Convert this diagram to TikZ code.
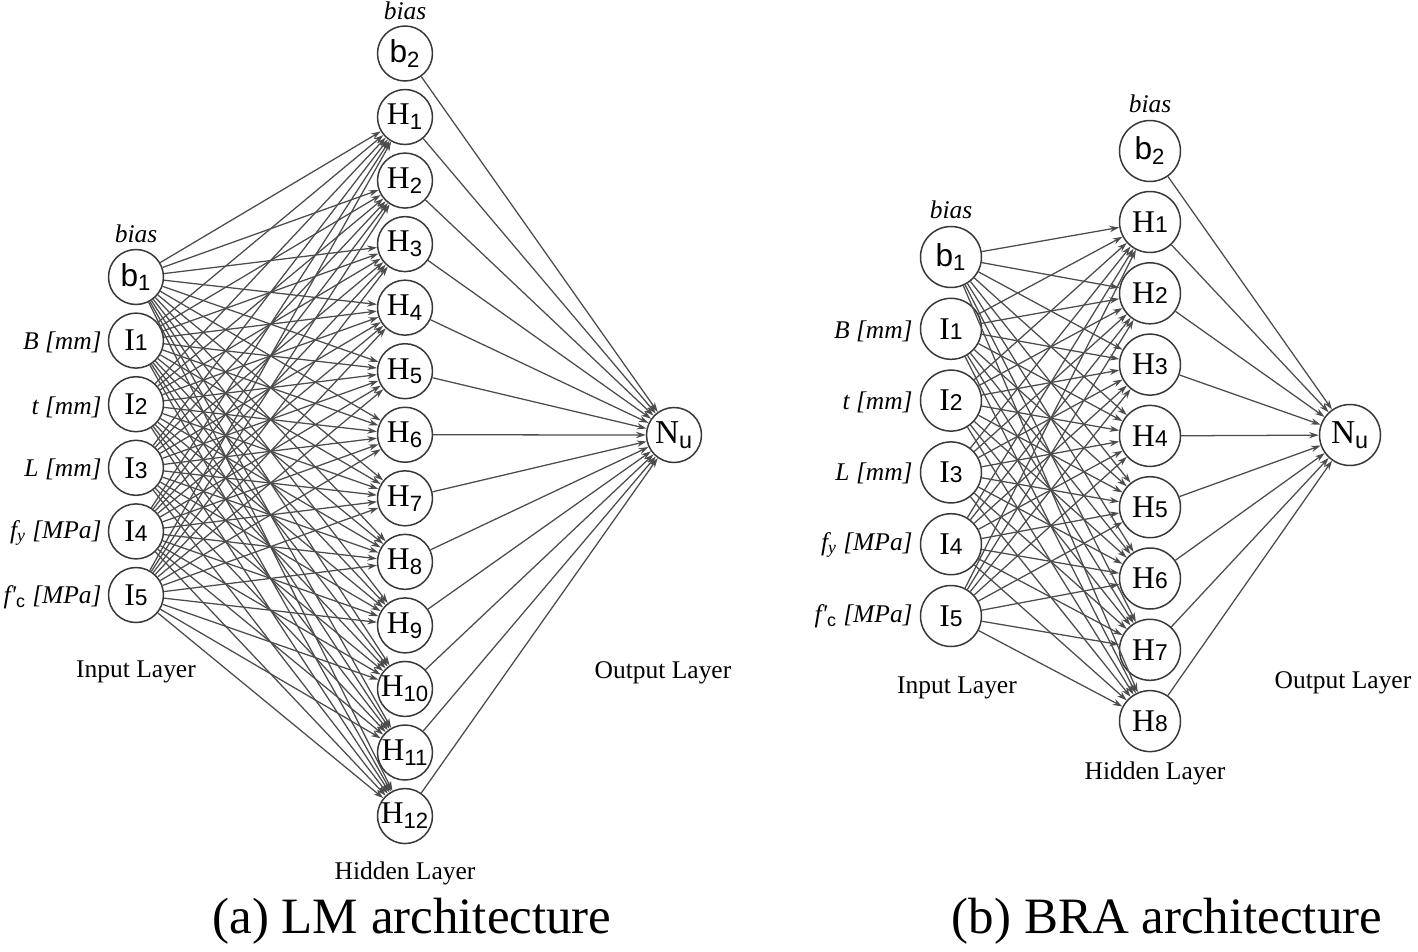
\documentclass[tikz,border=0pt]{standalone}
\usepackage{fontspec}
\setmainfont{Liberation Serif}
\newfontfamily\lsans{Liberation Sans}
\usetikzlibrary{arrows.meta}
\newcommand{\sbs}[1]{\textsubscript{\lsans #1}}
\newcommand{\bsl}[1]{{\lsans\fontsize{13}{13}\selectfont #1}}
\tikzset{
  neuron/.style={circle,draw=black!78,line width=0.85pt,minimum size=1.1cm,inner sep=0pt,font=\fontsize{18}{18}\selectfont},
  neuronb/.style={neuron,minimum size=1.22cm},
  conn/.style={draw=black!70,line width=0.72pt,-{Stealth[length=5.5pt,width=3.6pt]}},
  lbl/.style={inner sep=0pt,font=\fontsize{14.5}{16}\selectfont},
  sidelbl/.style={inner sep=0pt,anchor=east,font=\fontsize{14.5}{16}\selectfont\itshape},
  captionlbl/.style={inner sep=0pt,font=\fontsize{29}{31}\selectfont}
}
\begin{document}
\begin{tikzpicture}[x=0.02cm,y=-0.02cm]
\useasboundingbox (0,0) rectangle (1418,951);
% ---------- (a) LM ----------
\node[neuron] (ab1) at (136,277) {{\lsans b}\sbs{1}};
\foreach \k in {1,...,5}{
  \node[neuron] (aI\k) at (136,{277+63.6*\k}) {I\bsl{\k}};
}
\node[neuron] (ab2) at (405,53.5) {{\lsans b}\sbs{2}};
\foreach \k in {1,...,12}{
  \node[neuron] (aH\k) at (405,{117+63.55*(\k-1)}) {H\sbs{\k}};
}
\node[neuron] (aN) at (674,435) {\fontsize{19}{19}\selectfont N\sbs{u}};
\foreach \s in {ab1,aI1,aI2,aI3,aI4,aI5}{
  \foreach \k in {1,...,12}{
    \draw[conn] (\s) -- (aH\k);
  }
}
\foreach \s in {ab2,aH1,aH2,aH3,aH4,aH5,aH6,aH7,aH8,aH9,aH10,aH11,aH12}{
  \draw[conn] (\s) -- (aN);
}
\node[lbl,font=\fontsize{14.5}{16}\selectfont\itshape] (abias1) at (136,234) {bias};
\node[lbl,font=\fontsize{14.5}{16}\selectfont\itshape] (abias2) at (405,11) {bias};
\node[sidelbl] (aL1) at (102,342) {B [mm]};
\node[sidelbl] (aL2) at (102,407) {t [mm]};
\node[sidelbl] (aL3) at (102,469) {L [mm]};
\node[sidelbl] (aL4) at (102,533) {f\textsubscript{y} [MPa]};
\node[sidelbl] (aL5) at (102,597) {f\textquotesingle\textsubscript{\upshape\lsans c} [MPa]};
\node[lbl] (ain) at (136,672) {Input Layer};
\node[lbl] (aout) at (663,673) {Output Layer};
\node[lbl] (ahid) at (405,873) {Hidden Layer};
\node[captionlbl] (acap) at (412,921) {(a) LM architecture};
% ---------- (b) BRA ----------
\node[neuronb] (bb1) at (951,257) {{\lsans b}\sbs{1}};
\foreach \k in {1,...,5}{
  \node[neuronb] (bI\k) at (951,{257+71.8*\k}) {I\bsl{\k}};
}
\node[neuronb] (bb2) at (1150,151) {{\lsans b}\sbs{2}};
\foreach \k in {1,...,8}{
  \node[neuronb] (bH\k) at (1150,{222+71.3*(\k-1)}) {H\bsl{\k}};
}
\node[neuronb] (bN) at (1350,435) {\fontsize{19}{19}\selectfont N\sbs{u}};
\foreach \s in {bb1,bI1,bI2,bI3,bI4,bI5}{
  \foreach \k in {1,...,8}{
    \draw[conn] (\s) -- (bH\k);
  }
}
\foreach \s in {bb2,bH1,bH2,bH3,bH4,bH5,bH6,bH7,bH8}{
  \draw[conn] (\s) -- (bN);
}
\node[lbl,font=\fontsize{14.5}{16}\selectfont\itshape] (bbias1) at (951,210) {bias};
\node[lbl,font=\fontsize{14.5}{16}\selectfont\itshape] (bbias2) at (1150,104) {bias};
\node[sidelbl] (bL1) at (913,331) {B [mm]};
\node[sidelbl] (bL2) at (913,402) {t [mm]};
\node[sidelbl] (bL3) at (913,473) {L [mm]};
\node[sidelbl] (bL4) at (913,545) {f\textsubscript{y} [MPa]};
\node[sidelbl] (bL5) at (913,616) {f\textquotesingle\textsubscript{\upshape\lsans c} [MPa]};
\node[lbl] (bin) at (957,688) {Input Layer};
\node[lbl] (bout) at (1343,683) {Output Layer};
\node[lbl] (bhid) at (1155,773) {Hidden Layer};
\node[captionlbl] (bcap) at (1167,921) {(b) BRA architecture};
\end{tikzpicture}
\end{document}
